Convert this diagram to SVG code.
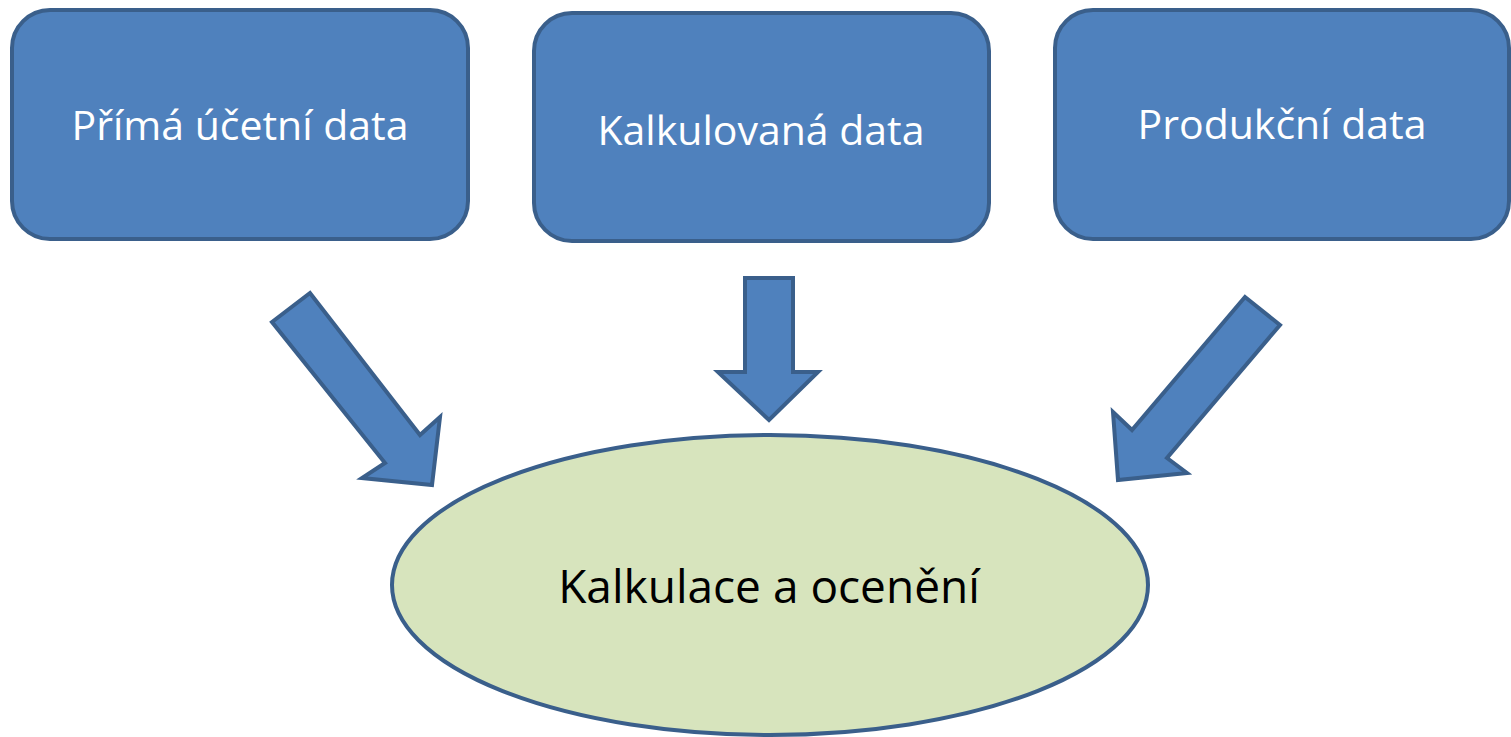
<svg xmlns="http://www.w3.org/2000/svg" width="1511" height="737" viewBox="0 0 1511 737">
<style>
.box{fill:#4f81bd;stroke:#3a5f8b;stroke-width:4}
.arr{fill:#4f81bd;stroke:#3a5f8b;stroke-width:4;stroke-linejoin:miter}
.lbl{font-family:"Open Sans","Liberation Sans",sans-serif;font-size:41px;fill:#ffffff;text-anchor:middle}
.elbl{font-family:"Open Sans","Liberation Sans",sans-serif;font-size:46px;fill:#000000;text-anchor:middle}
</style>
<rect width="1511" height="737" fill="#ffffff"/>
<g id="node-prima">
<rect class="box" x="12" y="10" width="456" height="229" rx="38"/>
<text class="lbl" x="240" y="140">Přímá účetní data</text>
</g>
<g id="node-kalkulovana">
<rect class="box" x="534" y="13" width="455" height="228" rx="38"/>
<text class="lbl" x="761" y="145">Kalkulovaná data</text>
</g>
<g id="node-produkcni">
<rect class="box" x="1055" y="10" width="454" height="229" rx="38"/>
<text class="lbl" x="1282" y="139">Produkční data</text>
</g>
<g id="node-kalkulace">
<ellipse cx="770" cy="585" rx="378" ry="150" fill="#d7e4bd" stroke="#3a5f8b" stroke-width="4"/>
<text class="elbl" x="769" y="603">Kalkulace a ocenění</text>
</g>
<g id="connectors">
<polygon class="arr" points="272,322 310,293 420,435 440,417 432,485 362,478 385,463"/>
<polygon class="arr" points="745,278 793,278 793,372 818,372 769,420 718,372 745,372"/>
<polygon class="arr" points="1245,297 1280,325 1167,458 1187,473 1118,480 1113,412 1132,430"/>
</g>
</svg>
